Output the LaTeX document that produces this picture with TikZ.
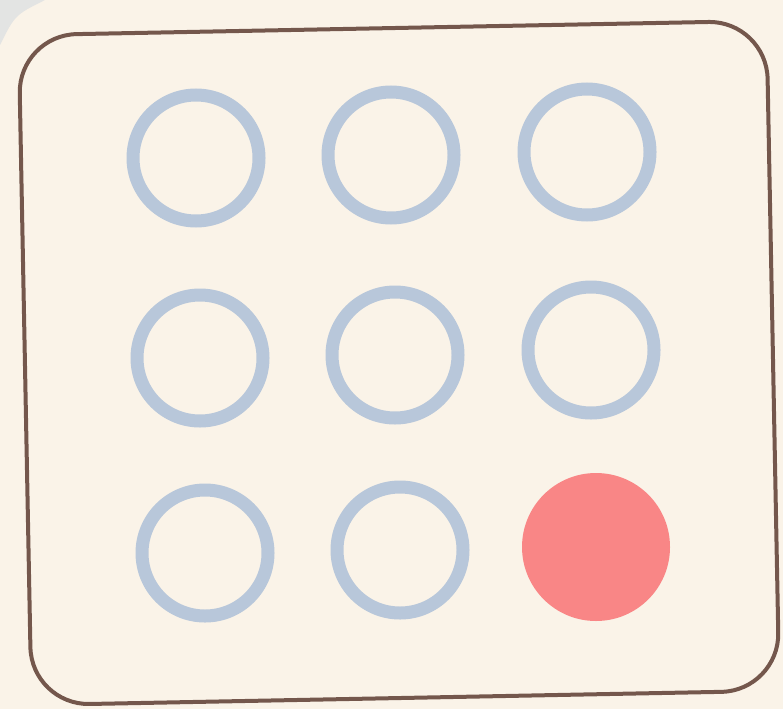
\documentclass[tikz,border=0pt]{standalone}
\definecolor{paper}{HTML}{FAF3E8}
\definecolor{frame}{HTML}{74574C}
\definecolor{ring}{HTML}{B8C7DA}
\definecolor{dot}{HTML}{F98686}
\begin{document}
\begin{tikzpicture}[x=1pt,y=-1pt,
  ringdot/.style={circle,draw=ring,line width=13pt,minimum size=126pt,inner sep=0pt},
  filldot/.style={circle,fill=dot,minimum size=148pt,inner sep=0pt},
  framebox/.style={draw=frame,line width=4pt,rounded corners=58pt,fill=paper}]
\fill[paper] (0,0) rectangle (783,709);
\useasboundingbox (0,0) rectangle (783,709);
\fill[ring!35!paper] (0,0) -- (45,0) .. controls (15,15) .. (0,45) -- cycle;
\draw[framebox,rotate around={1.1:(398,363)}] (25,28) rectangle (773,698);
\node[ringdot] (c11) at (196,158) {};
\node[ringdot] (c12) at (391,155) {};
\node[ringdot] (c13) at (587,152) {};
\node[ringdot] (c21) at (200,358) {};
\node[ringdot] (c22) at (395,355) {};
\node[ringdot] (c23) at (591,350) {};
\node[ringdot] (c31) at (205,553) {};
\node[ringdot] (c32) at (400,550) {};
\node[filldot] (c33) at (596,547) {};
\end{tikzpicture}
\end{document}
